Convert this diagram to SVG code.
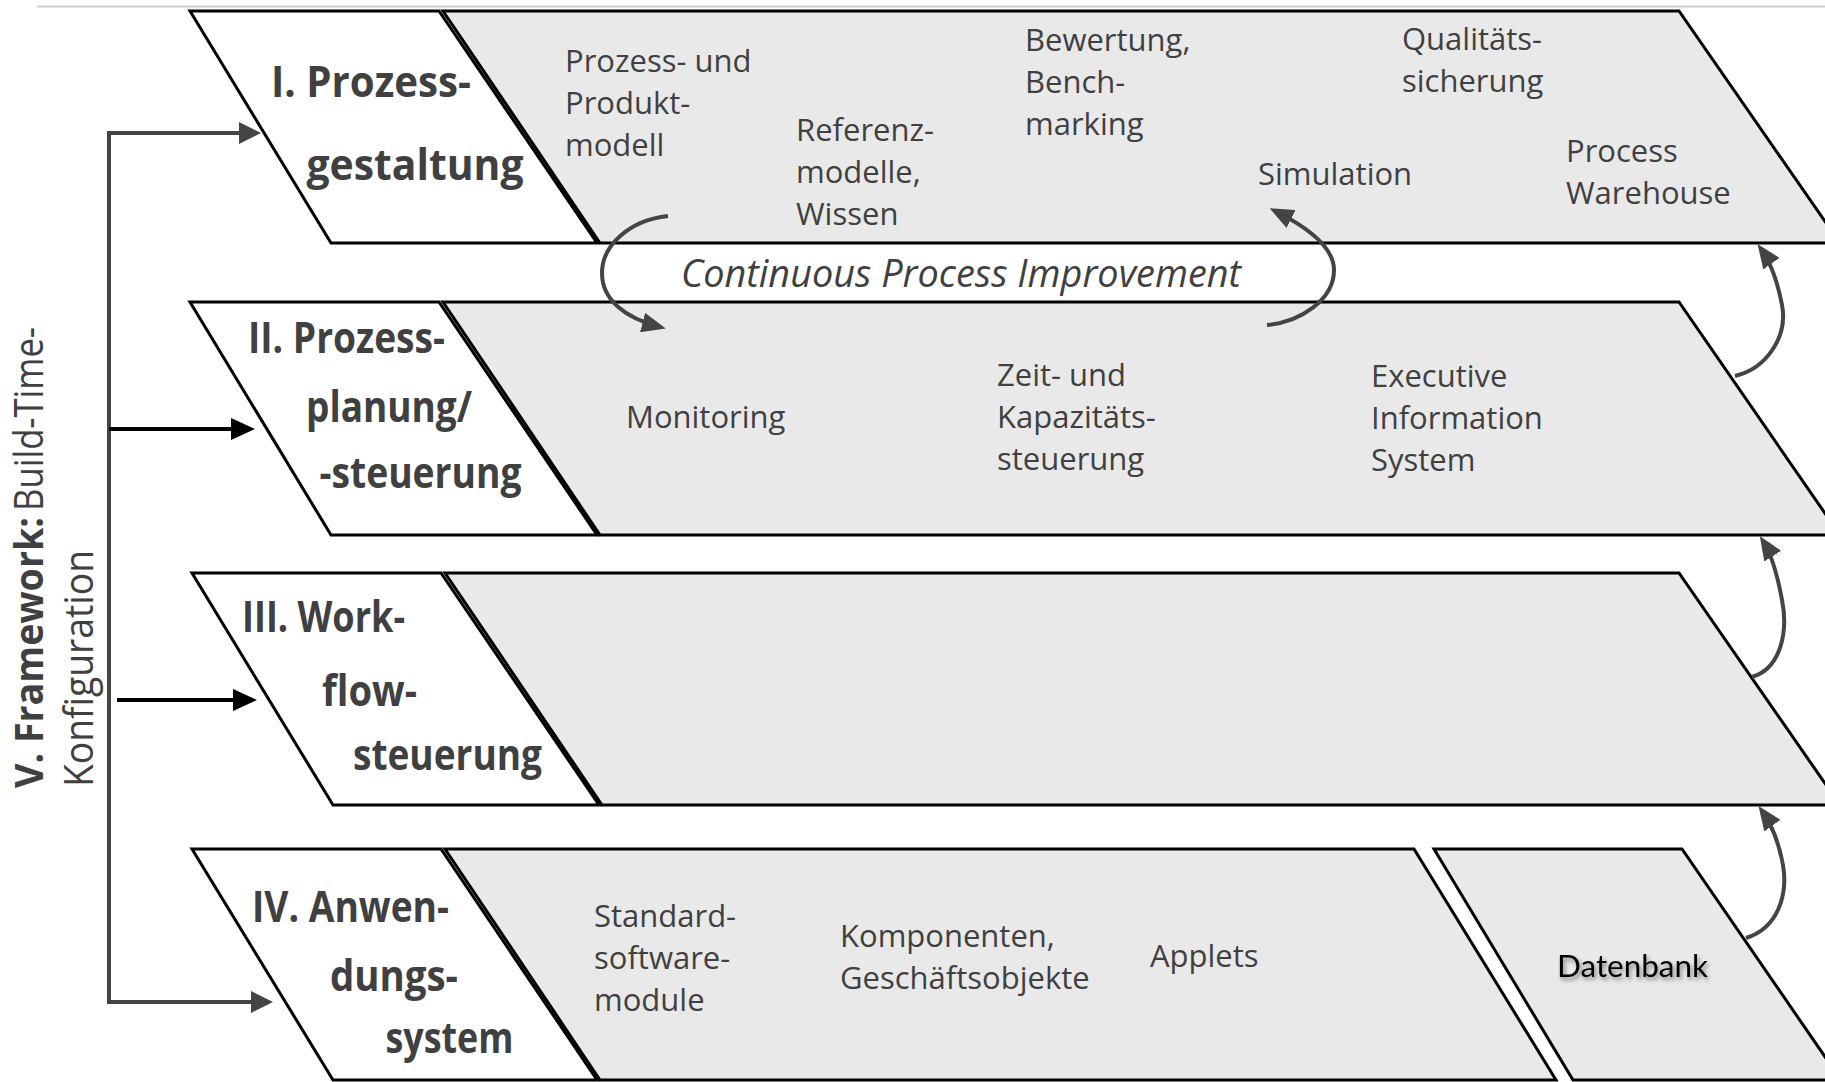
<svg xmlns="http://www.w3.org/2000/svg" width="1825" height="1082" viewBox="0 0 1825 1082">
  <defs>
    <style>
      .band { fill: #e9e9e9; stroke: #000; stroke-width: 3; stroke-linejoin: miter; }
      .label { fill: #fff; stroke: #000; stroke-width: 3; stroke-linejoin: miter; }
      .t { font-family: "Open Sans", "Liberation Sans", sans-serif; font-size: 31px; fill: #404040; }
      .lbl { font-family: "Open Sans", "Liberation Sans", sans-serif; font-size: 43px; font-weight: bold; fill: #404040; }
      .cpi { font-family: "Open Sans", "Liberation Sans", sans-serif; font-size: 38px; font-style: italic; fill: #404040; }
      .vt { font-family: "Open Sans", "Liberation Sans", sans-serif; font-size: 40px; fill: #404040; }
      .db { font-family: Lato, "Open Sans", sans-serif; font-size: 30px; fill: #000; }
      .curve { fill: none; stroke: #444; stroke-width: 4; }
      .frame { fill: none; stroke: #444; stroke-width: 4; }
      .frame-b { fill: none; stroke: #000; stroke-width: 4; }
    </style>
    <marker id="ah-gray" markerUnits="userSpaceOnUse" markerWidth="22" markerHeight="22" refX="16" refY="11" orient="auto">
      <path d="M0,0 L22,11 L0,22 z" fill="#444"/>
    </marker>
    <marker id="ah-black" markerUnits="userSpaceOnUse" markerWidth="24" markerHeight="22" refX="18" refY="11" orient="auto">
      <path d="M0,0 L24,11 L0,22 z" fill="#000"/>
    </marker>
    <marker id="ah-curve" markerUnits="userSpaceOnUse" markerWidth="24" markerHeight="20" refX="18" refY="10" orient="auto">
      <path d="M0,0 L24,10 L0,20 z" fill="#444"/>
    </marker>
    <filter id="shadow" x="-10%" y="-30%" width="130%" height="170%">
      <feDropShadow dx="2" dy="3" stdDeviation="2" flood-color="#000" flood-opacity="0.45"/>
    </filter>
  </defs>

  <!-- page rule at the top -->
  <line x1="37" y1="6.5" x2="1825" y2="6.5" stroke="#cccccc" stroke-width="2"/>

  <!-- Layer I -->
  <g id="layer-1">
    <polygon class="band" points="443,11 1679,11 1840,243 600,243"/>
    <polygon class="label" points="190,11 439,11 597,243 331,243"/>
    <text class="lbl" x="271" y="97" textLength="200" lengthAdjust="spacingAndGlyphs">I. Prozess-</text>
    <text class="lbl" x="306.5" y="180" textLength="217" lengthAdjust="spacingAndGlyphs">gestaltung</text>
    <text class="t" x="565" y="72">Prozess- und</text>
    <text class="t" x="565" y="114">Produkt-</text>
    <text class="t" x="565" y="156">modell</text>
    <text class="t" x="796" y="141">Referenz-</text>
    <text class="t" x="796" y="183">modelle,</text>
    <text class="t" x="796" y="225">Wissen</text>
    <text class="t" x="1025" y="51">Bewertung,</text>
    <text class="t" x="1025" y="93">Bench-</text>
    <text class="t" x="1025" y="135">marking</text>
    <text class="t" x="1402" y="50">Qualitäts-</text>
    <text class="t" x="1402" y="92">sicherung</text>
    <text class="t" x="1258" y="185">Simulation</text>
    <text class="t" x="1566" y="162">Process</text>
    <text class="t" x="1566" y="204">Warehouse</text>
  </g>

  <!-- Layer II -->
  <g id="layer-2">
    <polygon class="band" points="443,302 1679,302 1840,535 600,535"/>
    <polygon class="label" points="190,302 439,302 597,535 331,535"/>
    <text class="lbl" x="248" y="353" textLength="197" lengthAdjust="spacingAndGlyphs">II. Prozess-</text>
    <text class="lbl" x="306" y="422" textLength="166" lengthAdjust="spacingAndGlyphs">planung/</text>
    <text class="lbl" x="319.5" y="488" textLength="202" lengthAdjust="spacingAndGlyphs">-steuerung</text>
    <text class="t" x="626" y="428">Monitoring</text>
    <text class="t" x="997" y="386">Zeit- und</text>
    <text class="t" x="997" y="428">Kapazitäts-</text>
    <text class="t" x="997" y="470">steuerung</text>
    <text class="t" x="1371" y="387">Executive</text>
    <text class="t" x="1371" y="429">Information</text>
    <text class="t" x="1371" y="471">System</text>
  </g>

  <!-- Layer III -->
  <g id="layer-3">
    <polygon class="band" points="445,573 1679,573 1840,805 602,805"/>
    <polygon class="label" points="192,573 441,573 599,805 333,805"/>
    <text class="lbl" x="242" y="632" textLength="163" lengthAdjust="spacingAndGlyphs">III. Work-</text>
    <text class="lbl" x="322" y="706" textLength="95" lengthAdjust="spacingAndGlyphs">flow-</text>
    <text class="lbl" x="353" y="770" textLength="189" lengthAdjust="spacingAndGlyphs">steuerung</text>
  </g>

  <!-- Layer IV -->
  <g id="layer-4">
    <polygon class="band" points="445,849 1414,849 1556,1080 600,1080"/>
    <polygon class="label" points="192,849 441,849 597,1080 333,1080"/>
    <text class="lbl" x="252" y="922" textLength="197" lengthAdjust="spacingAndGlyphs">IV. Anwen-</text>
    <text class="lbl" x="330" y="991" textLength="128" lengthAdjust="spacingAndGlyphs">dungs-</text>
    <text class="lbl" x="385.5" y="1053" textLength="128" lengthAdjust="spacingAndGlyphs">system</text>
    <text class="t" x="594" y="927">Standard-</text>
    <text class="t" x="594" y="969">software-</text>
    <text class="t" x="594" y="1011">module</text>
    <text class="t" x="840" y="947">Komponenten,</text>
    <text class="t" x="840" y="989">Geschäftsobjekte</text>
    <text class="t" x="1150" y="967">Applets</text>
  </g>

  <!-- Database block -->
  <g id="datenbank">
    <polygon class="band" points="1434,849 1682,849 1841,1080 1573,1080"/>
    <text class="db" x="1557" y="977" textLength="151" lengthAdjust="spacingAndGlyphs" filter="url(#shadow)">Datenbank</text>
  </g>

  <!-- Framework bracket label -->
  <g id="framework">
    <text class="vt" font-weight="bold" transform="translate(43,788) rotate(-90)" textLength="271" lengthAdjust="spacingAndGlyphs">V. Framework:</text>
    <text class="vt" transform="translate(43,511) rotate(-90)" textLength="184" lengthAdjust="spacingAndGlyphs">Build-Time-</text>
    <text class="vt" transform="translate(93,787) rotate(-90)" textLength="237" lengthAdjust="spacingAndGlyphs">Konfiguration</text>
  </g>

  <!-- Improvement cycle label -->
  <g id="cpi-label">
    <text class="cpi" x="681" y="287" textLength="560" lengthAdjust="spacingAndGlyphs">Continuous Process Improvement</text>
  </g>

  <!-- Connectors -->
  <g id="connectors">
    <!-- framework bracket -->
    <path class="frame" d="M109,131 V1004"/>
    <path class="frame" d="M107,133 H255" marker-end="url(#ah-gray)"/>
    <path class="frame-b" d="M109,429 H249" marker-end="url(#ah-black)"/>
    <path class="frame-b" d="M117,700 H251" marker-end="url(#ah-black)"/>
    <path class="frame" d="M107,1002 H267" marker-end="url(#ah-gray)"/>

    <!-- continuous process improvement cycle -->
    <path class="curve" d="M668,216 C630,220 602,245 602,273 C602,300 625,318 660,327" marker-end="url(#ah-curve)"/>
    <path class="curve" d="M1267,325 C1300,322 1334,300 1334,270 C1334,245 1303,225 1275,211" marker-end="url(#ah-curve)"/>

    <!-- upward links on the right -->
    <path class="curve" d="M1735,376 C1768,368 1788,335 1782,305 C1778,284 1771,263 1761,249" marker-end="url(#ah-curve)"/>
    <path class="curve" d="M1752,677 C1782,668 1788,630 1782,600 C1778,578 1772,555 1763,541" marker-end="url(#ah-curve)"/>
    <path class="curve" d="M1746,938 C1778,928 1788,895 1783,865 C1779,843 1772,825 1762,811" marker-end="url(#ah-curve)"/>
  </g>
</svg>
